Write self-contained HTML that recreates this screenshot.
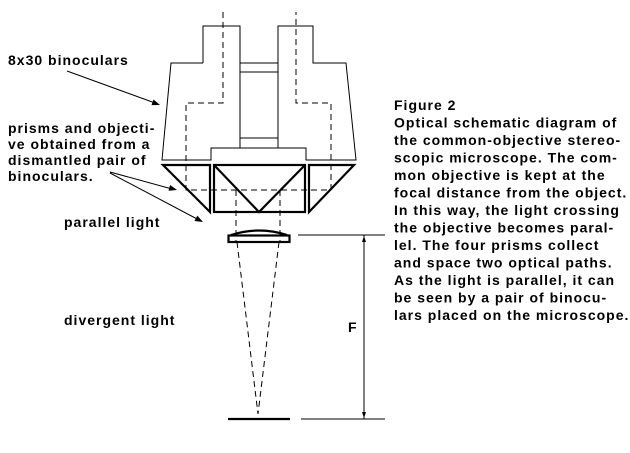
<!DOCTYPE html>
<html><head><meta charset="utf-8"><style>
body{margin:0;background:#fff}
svg text{font-family:"Liberation Sans",Arial,sans-serif;font-weight:bold;font-size:14px;letter-spacing:1px;fill:#000}
</style></head><body>
<svg width="630" height="448" viewBox="0 0 630 448" xmlns="http://www.w3.org/2000/svg">
<g fill="none" stroke="#000" stroke-width="1">
<path d="M203,63 V26 H240 V148 M278,148 V26 H313 V63 H346 L356,160 H306 V148 H211 V160 H162 L171,63 H203"/>
<path d="M240,63 H278 M240,72 H278 M240,138 H278 M240,148 H278"/>
<g stroke-dasharray="6,4">
<path d="M223,12 V103 H186 V190 H331 V103 H296 V12"/>
<path d="M236,190 V242 M280,190 V242"/>
<path d="M237,242 L258,414 M279,242 L258,414"/>
</g>
<g stroke-width="2.2">
<path d="M163,165 H210 V212 Z"/>
<rect x="214" y="165" width="91" height="47"/>
<path d="M214,165 L259,212 L305,165"/>
<path d="M354,165 H309 V212 Z"/>
<rect x="228.5" y="235.5" width="61" height="6.5"/>
<path d="M231,235 Q259,226 287,235"/>
<path d="M228,419 H290"/>
</g>
<path d="M298,235 H385 M301,419 H385 M364,235 V419"/>
<path d="M67,71 L155,103 M110,172 L172,189 M110,173 L199,220"/>
</g>
<g fill="#000">
<path d="M160,105 L151.5,105.1 L153.5,99.5Z"/>
<path d="M177,190 L168.5,190.8 L170.1,185Z"/>
<path d="M203,222 L194.5,221 L197.3,215.6Z"/>
<path d="M362,242 L364,236 L366,242Z M362,412 L364,418 L366,412Z"/>
</g>
<text x="8" y="65">8x30 binoculars</text>
<text x="8" y="133">prisms and objecti-</text>
<text x="8" y="149">ve obtained from a</text>
<text x="8" y="165">dismantled pair of</text>
<text x="8" y="181">binoculars.</text>
<text x="64" y="227">parallel light</text>
<text x="64" y="325">divergent light</text>
<text x="348" y="332">F</text>
<g>
<text x="394" y="110">Figure 2</text>
<text x="394" y="127.5">Optical schematic diagram of</text>
<text x="394" y="145">the common-objective stereo-</text>
<text x="394" y="162.5">scopic microscope. The com-</text>
<text x="394" y="180">mon objective is  kept at  the</text>
<text x="394" y="197.5">focal distance from the object.</text>
<text x="394" y="215">In this way, the light crossing</text>
<text x="394" y="232.5">the objective becomes paral-</text>
<text x="394" y="250">lel.  The  four  prisms  collect</text>
<text x="394" y="267.5">and space two optical  paths.</text>
<text x="394" y="285">As the light is parallel,  it can</text>
<text x="394" y="302.5">be seen by a pair  of  binocu-</text>
<text x="394" y="320">lars placed on the microscope.</text>
</g>
</svg>
</body></html>
